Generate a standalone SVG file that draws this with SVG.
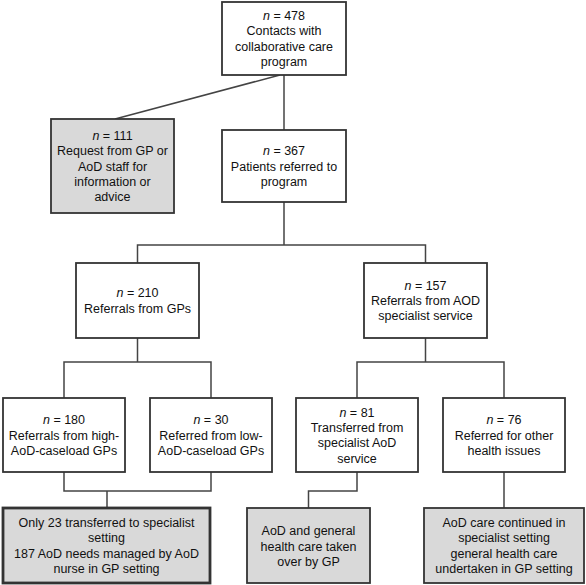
<svg xmlns="http://www.w3.org/2000/svg" width="586" height="585" viewBox="0 0 586 585">
<style>
  .box { fill: #ffffff; stroke: #333333; stroke-width: 1.8; }
  .gray { fill: #d9d9d9; stroke: #333333; stroke-width: 1.8; }
  .thick { stroke-width: 2.8; }
  .lbl { font-family: "Liberation Sans", Arial, sans-serif; font-size: 12.5px; fill: #111111; text-anchor: middle; }
  .it { font-style: italic; }
  .conn { fill: none; stroke: #444444; stroke-width: 1.5; }
</style>
<rect width="586" height="585" fill="#ffffff"/>
<g id="connectors">
  <path class="conn" d="M280,75 L115,119"/>
  <path class="conn" d="M284,75 V130"/>
  <path class="conn" d="M284,202 V245 M137.5,263 V245 H425.5 V263"/>
  <path class="conn" d="M137.5,338 V362 M64,398 V362 H211 V398"/>
  <path class="conn" d="M425.5,338 V362 M357,398 V362 H504 V398"/>
  <path class="conn" d="M64,472 V491 H211 V472 M107,491 V508"/>
  <path class="conn" d="M357,472 V491 H308.5 V508"/>
  <path class="conn" d="M504,472 V508"/>
</g>
<g id="n478">
  <rect class="box" x="222" y="2" width="124" height="73"/>
  <text class="lbl" x="284" y="20"><tspan class="it">n</tspan> = 478</text>
  <text class="lbl" x="284" y="35.3">Contacts with</text>
  <text class="lbl" x="284" y="50.6">collaborative care</text>
  <text class="lbl" x="284" y="65.9">program</text>
</g>
<g id="n111">
  <rect class="gray" x="51" y="119" width="123" height="94"/>
  <text class="lbl" x="112.5" y="139.9"><tspan class="it">n</tspan> = 111</text>
  <text class="lbl" x="112.5" y="155.2">Request from GP or</text>
  <text class="lbl" x="112.5" y="170.5">AoD staff for</text>
  <text class="lbl" x="112.5" y="185.8">information or</text>
  <text class="lbl" x="112.5" y="201.1">advice</text>
</g>
<g id="n367">
  <rect class="box" x="222" y="130" width="124" height="72"/>
  <text class="lbl" x="284" y="155.2"><tspan class="it">n</tspan> = 367</text>
  <text class="lbl" x="284" y="170.5">Patients referred to</text>
  <text class="lbl" x="284" y="185.8">program</text>
</g>
<g id="n210">
  <rect class="box" x="76" y="263" width="123" height="75"/>
  <text class="lbl" x="137.5" y="297.4"><tspan class="it">n</tspan> = 210</text>
  <text class="lbl" x="137.5" y="312.7">Referrals from GPs</text>
</g>
<g id="n157">
  <rect class="box" x="364" y="263" width="123" height="75"/>
  <text class="lbl" x="425.5" y="289.7"><tspan class="it">n</tspan> = 157</text>
  <text class="lbl" x="425.5" y="305">Referrals from AOD</text>
  <text class="lbl" x="425.5" y="320.3">specialist service</text>
</g>
<g id="n180">
  <rect class="box" x="3" y="398" width="122" height="74"/>
  <text class="lbl" x="64" y="424.2"><tspan class="it">n</tspan> = 180</text>
  <text class="lbl" x="64" y="439.5">Referrals from high-</text>
  <text class="lbl" x="64" y="454.8">AoD-caseload GPs</text>
</g>
<g id="n30">
  <rect class="box" x="150" y="398" width="122" height="74"/>
  <text class="lbl" x="211" y="424.2"><tspan class="it">n</tspan> = 30</text>
  <text class="lbl" x="211" y="439.5">Referred from low-</text>
  <text class="lbl" x="211" y="454.8">AoD-caseload GPs</text>
</g>
<g id="n81">
  <rect class="box" x="296" y="398" width="122" height="74"/>
  <text class="lbl" x="357" y="416.6"><tspan class="it">n</tspan> = 81</text>
  <text class="lbl" x="357" y="431.9">Transferred from</text>
  <text class="lbl" x="357" y="447.2">specialist AoD</text>
  <text class="lbl" x="357" y="462.5">service</text>
</g>
<g id="n76">
  <rect class="box" x="443" y="398" width="122" height="74"/>
  <text class="lbl" x="504" y="424.2"><tspan class="it">n</tspan> = 76</text>
  <text class="lbl" x="504" y="439.5">Referred for other</text>
  <text class="lbl" x="504" y="454.8">health issues</text>
</g>
<g id="outcomeGP">
  <rect class="gray thick" x="3" y="508" width="207" height="75"/>
  <text class="lbl" x="106.5" y="527.1">Only 23 transferred to specialist</text>
  <text class="lbl" x="106.5" y="542.4">setting</text>
  <text class="lbl" x="106.5" y="557.7">187 AoD needs managed by AoD</text>
  <text class="lbl" x="106.5" y="573">nurse in GP setting</text>
</g>
<g id="outcomeTransfer">
  <rect class="gray" x="247" y="508" width="123" height="75"/>
  <text class="lbl" x="308.5" y="535.2">AoD and general</text>
  <text class="lbl" x="308.5" y="550.5">health care taken</text>
  <text class="lbl" x="308.5" y="565.8">over by GP</text>
</g>
<g id="outcomeOther">
  <rect class="gray" x="424" y="508" width="160" height="75"/>
  <text class="lbl" x="504" y="527.1">AoD care continued in</text>
  <text class="lbl" x="504" y="542.4">specialist setting</text>
  <text class="lbl" x="504" y="557.7">general health care</text>
  <text class="lbl" x="504" y="573">undertaken in GP setting</text>
</g>
</svg>
